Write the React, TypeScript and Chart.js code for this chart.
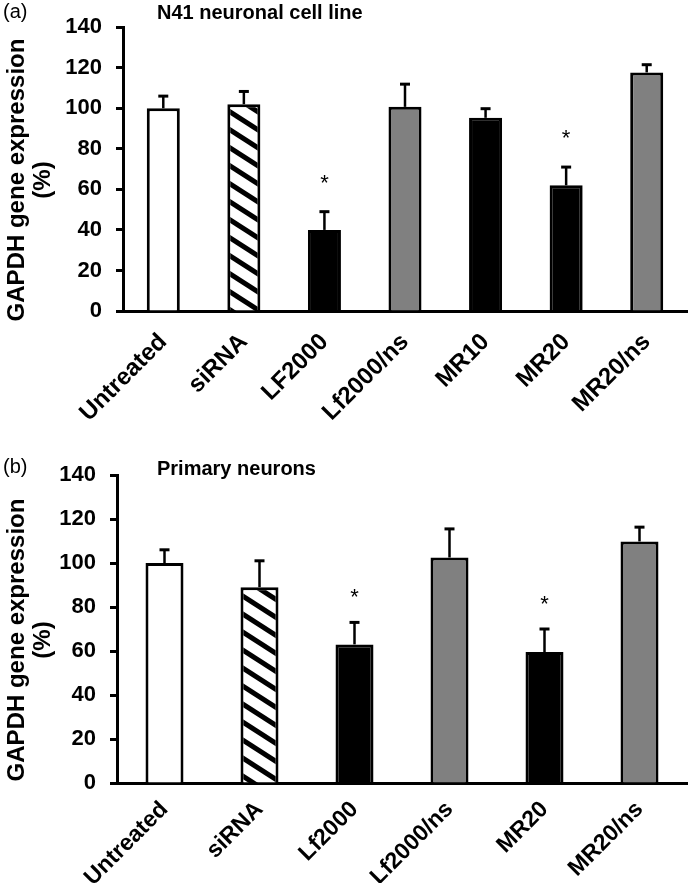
import { useEffect, useRef } from 'react';
import { Chart, registerables } from 'chart.js';

Chart.register(...registerables);

// ---------- Data ----------
const catsA = ['Untreated', 'siRNA', 'LF2000', 'Lf2000/ns', 'MR10', 'MR20', 'MR20/ns'];
const valsA = [100, 102, 40, 100.7, 95.3, 62, 117.7];
const errsA = [6, 6.3, 9, 11.2, 4.5, 9, 3.8];
const starsA = [false, false, true, false, false, true, false];
const fillsA = ['white', 'hatch', 'black', 'gray', 'black', 'black', 'gray'];

const catsB = ['Untreated', 'siRNA', 'Lf2000', 'Lf2000/ns', 'MR20', 'MR20/ns'];
const valsB = [100, 89, 63, 102.5, 59.5, 109.8];
const errsB = [6, 12, 10, 13, 10.5, 6.5];
const starsB = [false, false, true, false, true, false];
const fillsB = ['white', 'hatch', 'black', 'gray', 'black', 'gray'];

const yTicks = [0, 20, 40, 60, 80, 100, 120, 140];
const yTitle = ['GAPDH gene expression', '(%)'];

const FONT = '"Liberation Sans", Arial, sans-serif';

function makeHatch(): CanvasPattern | string {
  const w = 28, h = 18;
  const c = document.createElement('canvas');
  c.width = w; c.height = h;
  const g = c.getContext('2d');
  if (!g) return 'white';
  g.fillStyle = 'white';
  g.fillRect(0, 0, w, h);
  g.strokeStyle = 'black';
  g.lineWidth = 5;
  for (const dx of [-w, 0, w]) {
    g.beginPath();
    g.moveTo(dx - w, -h);
    g.lineTo(dx + 2 * w, 2 * h);
    g.stroke();
  }
  const p = g.createPattern(c, 'repeat');
  return p || 'white';
}

type PanelProps = {
  top: number;
  height: number;
  cats: string[];
  vals: number[];
  errs: number[];
  stars: boolean[];
  fills: string[];
  yWidth: number;
  xHeight: number;
  padTop: number;
  barPct: number;
  xFont: number;
  xPad: number;
  tag: string;
  tagBaseline: number;
  title: string;
  titleBaseline: number;
  yTitleCenter: number;
  starOffset: number;
};

function Panel(p: PanelProps) {
  const ref = useRef<HTMLCanvasElement | null>(null);
  useEffect(() => {
    const canvas = ref.current;
    if (!canvas) return;
    const hatch = makeHatch();
    const bg = p.fills.map((f) => (f === 'hatch' ? hatch : f === 'gray' ? '#808080' : f === 'black' ? '#000000' : '#ffffff'));

    const overlay = {
      id: 'overlay',
      afterDatasetsDraw(chart: any) {
        const ctx = chart.ctx as CanvasRenderingContext2D;
        const meta = chart.getDatasetMeta(0);
        const ys = chart.scales.y;
        ctx.save();
        ctx.strokeStyle = '#000';
        ctx.fillStyle = '#000';
        p.vals.forEach((v, i) => {
          const el = meta.data[i];
          const x = el.x;
          const yTop = ys.getPixelForValue(v);
          const yErr = ys.getPixelForValue(v + p.errs[i]);
          ctx.lineWidth = 2.5;
          ctx.beginPath();
          ctx.moveTo(x, yTop);
          ctx.lineTo(x, yErr);
          ctx.stroke();
          ctx.lineWidth = 3;
          ctx.beginPath();
          ctx.moveTo(x - 5, yErr);
          ctx.lineTo(x + 5, yErr);
          ctx.stroke();
          if (p.stars[i]) {
            ctx.font = `22px ${FONT}`;
            ctx.textAlign = 'center';
            ctx.textBaseline = 'alphabetic';
            ctx.fillText('*', x, yErr - p.starOffset);
          }
        });
        // panel tag and title
        ctx.textAlign = 'left';
        ctx.textBaseline = 'alphabetic';
        ctx.font = `20px ${FONT}`;
        ctx.fillText(p.tag, 3, p.tagBaseline);
        ctx.font = `bold 20px ${FONT}`;
        ctx.fillText(p.title, 157, p.titleBaseline);
        // y title
        ctx.font = `bold 24px ${FONT}`;
        ctx.textAlign = 'center';
        ctx.textBaseline = 'middle';
        ctx.save();
        ctx.translate(17, p.yTitleCenter);
        ctx.rotate(-Math.PI / 2);
        ctx.fillText(yTitle[0], 0, 0);
        ctx.restore();
        ctx.save();
        ctx.translate(43, p.yTitleCenter);
        ctx.rotate(-Math.PI / 2);
        ctx.fillText(yTitle[1], 0, 0);
        ctx.restore();
        ctx.restore();
      },
    };

    const chart = new Chart(canvas, {
      type: 'bar',
      data: {
        labels: p.cats,
        datasets: [
          {
            data: p.vals,
            backgroundColor: bg as any,
            borderColor: '#000',
            borderWidth: 3,
            barPercentage: p.barPct,
            categoryPercentage: 1,
          },
        ],
      },
      options: {
        responsive: false,
        animation: false,
        events: [],
        layout: { padding: { top: p.padTop, right: 1, left: 0, bottom: 0 } },
        plugins: {
          legend: { display: false },
          tooltip: { enabled: false },
          title: { display: false },
        },
        scales: {
          x: {
            grid: { display: false, drawTicks: false },
            border: { display: true, color: '#000', width: 3 },
            ticks: {
              color: '#000',
              font: { family: FONT, size: p.xFont, weight: 'bold' },
              maxRotation: 45,
              minRotation: 45,
              autoSkip: false,
              padding: p.xPad,
            },
            afterFit: (s: any) => {
              s.height = p.xHeight;
            },
          },
          y: {
            min: 0,
            max: 140,
            afterBuildTicks: (s: any) => {
              s.ticks = yTicks.map((v) => ({ value: v }));
            },
            ticks: {
              color: '#000',
              font: { family: FONT, size: 22, weight: 'bold' },
              padding: 14,
            },
            grid: {
              drawOnChartArea: false,
              drawTicks: true,
              tickLength: 7,
              tickColor: '#000',
              tickWidth: 3,
            },
            border: { color: '#000', width: 3 },
            afterFit: (s: any) => {
              s.width = p.yWidth;
            },
          },
        },
      },
      plugins: [overlay],
    });
    return () => chart.destroy();
  }, []);
  return (
    <canvas
      ref={ref}
      width={688}
      height={p.height}
      style={{ position: 'absolute', left: 0, top: p.top, width: 688, height: p.height }}
    />
  );
}

export default function App() {
  return (
    <div style={{ position: 'absolute', left: 0, top: 0, width: 688, height: 883, background: 'white' }}>
      <Panel
        top={0}
        height={440}
        cats={catsA}
        vals={valsA}
        errs={errsA}
        stars={starsA}
        fills={fillsA}
        yWidth={123}
        xHeight={129}
        padTop={22}
        barPct={0.41}
        xFont={24}
        xPad={17}
        tag="(a)"
        tagBaseline={18}
        title="N41 neuronal cell line"
        titleBaseline={19}
        yTitleCenter={180}
        starOffset={22}
      />
      <Panel
        top={440}
        height={443}
        cats={catsB}
        vals={valsB}
        errs={errsB}
        stars={starsB}
        fills={fillsB}
        yWidth={117}
        xHeight={100}
        padTop={35}
        barPct={0.4}
        xFont={23}
        xPad={13}
        tag="(b)"
        tagBaseline={33}
        title="Primary neurons"
        titleBaseline={35}
        yTitleCenter={200}
        starOffset={18}
      />
    </div>
  );
}
